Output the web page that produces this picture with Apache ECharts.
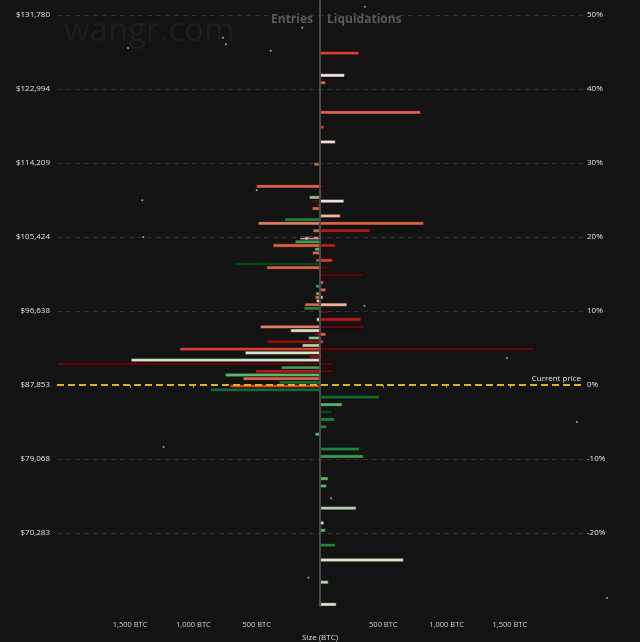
<!DOCTYPE html>
<html><head><meta charset="utf-8">
<script src="https://cdn.jsdelivr.net/npm/echarts@6/dist/echarts.min.js"></script>
<style>html,body{margin:0;padding:0;background:#131313}#c{width:640px;height:642px}</style>
</head><body><div id="c"></div>
<script>
// ---- DATA ----
// price levels (% from current price)
const levelPct = [44.85,41.85,40.85,36.85,34.85,32.85,29.85,26.85,25.35,24.85,24.35,23.85,22.85,22.35,21.85,20.85,19.85,19.35,18.85,18.35,17.85,16.85,16.35,15.85,14.85,13.85,13.35,12.85,12.35,11.85,11.35,10.85,10.35,9.85,8.85,7.85,7.35,6.85,6.35,5.85,5.35,4.85,4.35,3.85,3.35,2.85,2.35,1.85,1.35,0.85,0.35,-0.15,-0.65,-1.65,-2.65,-3.65,-4.65,-5.65,-6.65,-8.65,-9.65,-12.65,-13.65,-16.65,-18.65,-19.65,-21.65,-23.65,-26.65,-29.65];
// entries (BTC, left side)
const entryBTC = [0,0,0,0,0,0,46,500,84,71,27,60,0,277,487,54,158,196,370,41,60,33,669,419,0,0,33,0,33,38,27,120,125,0,27,470,231,43,90,419,139,1106,590,87,1490,2077,304,508,747,606,323,709,864,0,0,0,0,0,38,0,0,0,0,0,0,0,0,0,0,0];
const entryTone = ['','','','','','','R4','R4','G5','R0','G0','R4','','G2','R5','R4','P','G3','R4','G4','R4','R3','G0','R4','','','G3','','G4','R4','G7','R4','G2','','G7','R5','G7','R1','G5','R1','G6','R3','G7','R1','G7','R0','G3','R2','G4','R4','G1','R3','G1','','','','','','G4','','','','','','','','','','',''];
// liquidations (BTC, right side)
const liqBTC = [307,193,43,794,30,120,0,35,0,188,0,0,160,0,818,394,0,0,122,0,0,98,0,71,337,27,0,46,0,24,0,212,0,71,323,353,0,46,0,27,0,1693,0,30,0,103,0,103,0,0,0,0,0,470,174,95,114,52,0,310,342,63,52,285,30,43,120,658,65,128];
const liqTone = ['R3','R7','R4','R4','R3','R7','','R0','','R7','','','R6','','R4','R2','','','R2','','','R3','','R0','R0','R4','','R4','','R6','','R6','','R0','R2','R0','','R4','','R3','','R0','','R0','','R0','','R0','','','','','','G1','G4','G0','G2','G2','','G2','G3','G4','G4','G6','G7','G4','G2','G7','G6','G7'];
// axis ticks
const priceTickPct = [-20,-10,0,10,20,30,40,50];
const priceTickLabels = ['$70,283','$79,068','$87,853','$96,638','$105,424','$114,209','$122,994','$131,780'];
const gridPct = [-20,-10,10,20,30,40,50];
const sizeTicks = [-1500,-1000,-500,500,1000,1500];
// decorative dots (BTC, %)
const dotBTC = [-1516,-766,-742,-389,-140,355,-500,-1403,-1395,-107,351,1476,2029,-1235,87,-92,2266];
const dotPct = [45.54,46.93,46.04,45.18,48.28,51.12,26.31,24.96,20.0,19.69,10.72,3.65,-5.0,-8.38,-15.31,-26.04,-28.78];

// ---- STYLE ----
const tones = {
  R0:'#560a0f', R1:'#8a1313', R2:'#b31c1c', R3:'#d8402a', R4:'#df624a', R5:'#e27d63', R6:'#eeb59d', R7:'#f1e3db', P:'#c9978a',
  G0:'#0a4520', G1:'#146d32', G2:'#22833f', G3:'#3e9c53', G4:'#5cb56c', G5:'#8cbf8a', G6:'#b3d6aa', G7:'#d5e6cd'
};
const FONT = 'Open Sans';

function build(vals, toneArr, sign) {
  const out = [];
  for (let i = 0; i < levelPct.length; i++) {
    if (vals[i] > 0) out.push({ value: [sign * vals[i], levelPct[i]], itemStyle: { color: tones[toneArr[i]] } });
  }
  return out;
}
function renderBar(params, api) {
  const x = api.value(0), p = api.value(1);
  const a = api.coord([0, p]), b = api.coord([x, p]);
  const h = 3.3;
  return {
    type: 'rect',
    shape: { x: Math.min(a[0], b[0]), y: a[1] - h / 2, width: Math.abs(b[0] - a[0]), height: h },
    style: { fill: api.visual('color'), stroke: 'rgba(0,0,0,0.6)', lineWidth: 0.7 }
  };
}

const chart = echarts.init(document.getElementById('c'), null, { renderer: 'canvas' });
chart.setOption({
  backgroundColor: '#131313',
  animation: false,
  textStyle: { fontFamily: FONT },
  title: [
    { text: 'Entries', right: 327, top: 14, padding: 0, textStyle: { color: '#5a5a5a', fontSize: 12, fontWeight: 'bold', fontFamily: FONT } },
    { text: 'Liquidations', left: 327, top: 14, padding: 0, textStyle: { color: '#5a5a5a', fontSize: 12, fontWeight: 'bold', fontFamily: FONT } }
  ],
  graphic: [
    { type: 'text', left: 64, top: 15, z: -1, style: { text: 'wangr.com', fontSize: 33, fontFamily: FONT, fill: '#1e1e1e' } }
  ],
  grid: { left: 57, right: 57, top: 0, bottom: 35, containLabel: false, outerBoundsMode: 'none' },
  xAxis: {
    type: 'value', min: -2077, max: 2077, offset: 4,
    axisLine: { show: false },
    splitLine: { show: false },
    axisTick: { show: true, length: 3, customValues: sizeTicks, lineStyle: { color: '#8a8a8a' } },
    axisLabel: { customValues: sizeTicks, color: '#d0d0d0', fontSize: 7.5, margin: 10, fontFamily: FONT,
      formatter: v => Math.abs(v).toLocaleString('en-US') + ' BTC' },
    name: 'Size (BTC)', nameLocation: 'middle', nameGap: 20,
    nameTextStyle: { color: '#dcdcdc', fontSize: 8, fontFamily: FONT }
  },
  yAxis: [
    { type: 'value', min: -30, max: 52.03, position: 'left',
      axisLine: { show: false }, axisTick: { show: false }, splitLine: { show: false },
      axisLabel: { customValues: priceTickPct, color: '#e4e4e4', fontSize: 8, margin: 7, fontFamily: FONT,
        formatter: v => priceTickLabels[priceTickPct.indexOf(v)] } },
    { type: 'value', min: -30, max: 52.03, position: 'right',
      axisLine: { show: false }, axisTick: { show: false }, splitLine: { show: false },
      axisLabel: { customValues: priceTickPct, color: '#e4e4e4', fontSize: 8, margin: 4, fontFamily: FONT,
        formatter: v => v + '%' } }
  ],
  series: [
    { type: 'line', data: [], z: 1, silent: true,
      markLine: { silent: true, symbol: 'none', animation: false,
        lineStyle: { color: '#303030', width: 1, type: [5, 4] }, label: { show: false },
        data: gridPct.map(v => ({ yAxis: v })) } },
    { type: 'line', data: [], z: 2, silent: true,
      markLine: { silent: true, symbol: 'none', animation: false,
        lineStyle: { color: '#dcb21a', width: 2, type: [7, 4] },
        label: { show: true, position: 'insideEndTop', formatter: 'Current price', color: '#e6e6e6', fontSize: 8, fontFamily: FONT, distance: [2, 2] },
        data: [{ yAxis: 0 }] } },
    { type: 'custom', name: 'Entries', z: 3, renderItem: renderBar, encode: { x: 0, y: 1 }, data: build(entryBTC, entryTone, -1) },
    { type: 'custom', name: 'Liquidations', z: 3, renderItem: renderBar, encode: { x: 0, y: 1 }, data: build(liqBTC, liqTone, 1) },
    { type: 'line', data: [], z: 4, silent: true,
      markLine: { silent: true, symbol: 'none', animation: false,
        lineStyle: { color: '#4a4a4a', width: 2, type: 'solid' }, label: { show: false },
        data: [{ xAxis: 0 }] } },
    { type: 'scatter', z: 5, clip: false, symbolSize: 2, itemStyle: { color: '#c8c8c8' },
      data: dotBTC.map((b, i) => [b, dotPct[i]]) }
  ]
});
</script></body></html>
